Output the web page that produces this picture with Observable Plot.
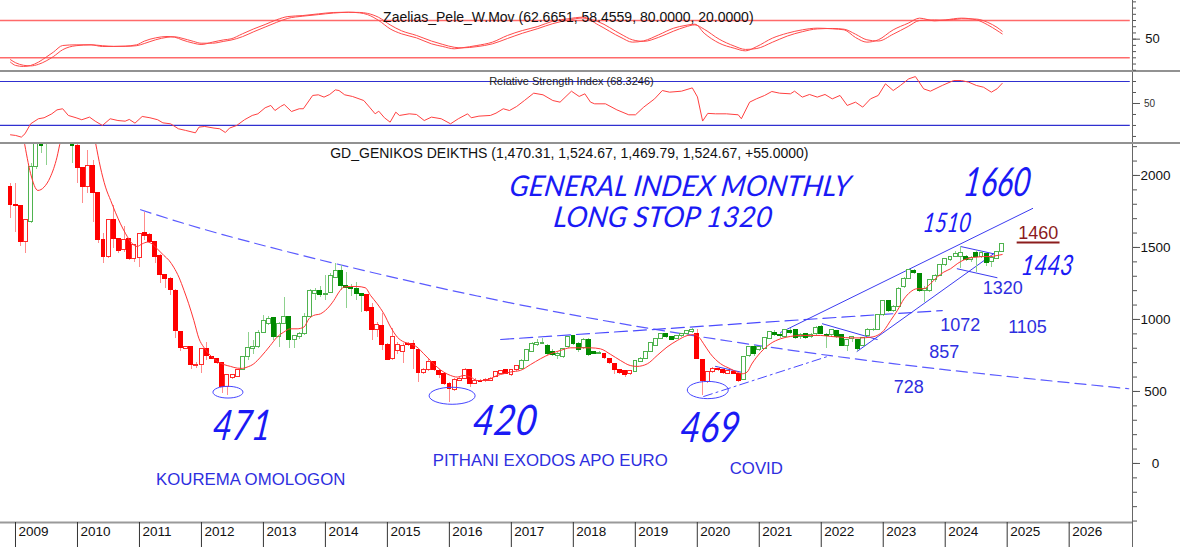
<!DOCTYPE html>
<html><head><meta charset="utf-8">
<script src="https://cdn.jsdelivr.net/npm/d3@7"></script>
<script src="https://cdn.jsdelivr.net/npm/@observablehq/plot@0.6"></script>
<style>
body{margin:0;background:#fff;}
#wrap{width:1180px;height:547px;overflow:hidden;background:#fff;}
#wrap svg{display:block;max-width:none;}
.sep{height:2px;background:#929292;}
</style></head><body><div id="wrap"></div>
<script>
// ---------------- DATA (monthly candles, index m = months since Jan 2009) ----------------
const years = [2009,2010,2011,2012,2013,2014,2015,2016,2017,2018,2019,2020,2021,2022,2023,2024,2025,2026];
const open = [
 1919,1792,1785,1537,1676,2058,2260,2230,2400,2650,2720,2620,
 2300,2208,2051,1919,2069,1877,1553,1433,1688,1560,1479,1560,
 1421,1430,1599,1588,1537,1444,1306,1282,1201,912,796,808,
 675,681,796,738,727,697,530,595,600,650,738,796,
 808,905,970,1009,877,970,1016,854,877,900,1014,1174,
 1201,1167,1183,1290,1335,1229,1220,1213,1174,1167,1081,924,
 958,826,727,780,773,831,831,789,627,650,704,640,
 623,553,513,576,588,646,553,576,570,576,600,623,
 646,611,646,657,715,773,824,831,819,773,743,738,
 808,882,831,803,859,773,762,757,727,692,646,639,
 618,634,704,727,773,819,866,900,877,866,882,898,
 912,900,720,565,634,657,650,623,634,623,581,743,
 808,785,796,866,905,895,877,920,924,877,900,877,
 900,947,895,889,919,889,819,866,854,819,882,924,
 924,1028,1127,1062,1086,1224,1282,1336,1317,1201,1197,1271,
 1305,1375,1414,1433,1437,1433,1410,1462,1437,1456,1398,1421,
 1470.31];
const high = [
 1942,1942,1790,1690,2081,2260,2330,2420,2700,2800,2930,2700,
 2350,2215,2051,2174,2104,1880,1595,1688,1792,1565,1646,1565,
 1514,1600,1745,1595,1540,1450,1312,1290,1205,915,815,812,
 700,800,843,745,732,700,620,620,655,742,912,854,
 920,1028,1020,1015,981,1150,1020,890,910,1039,1206,1213,
 1229,1305,1317,1387,1375,1329,1240,1259,1178,1170,1109,981,
 1039,830,935,840,831,840,854,792,660,720,710,650,
 630,565,590,600,660,650,590,585,590,595,640,648,
 650,650,680,720,790,840,860,870,825,790,770,800,
 885,885,840,870,865,780,775,760,730,695,650,645,
 645,715,735,780,840,870,905,905,885,890,905,920,
 935,928,725,640,665,665,655,645,640,625,745,815,
 820,815,876,915,920,905,930,935,930,900,905,900,
 950,955,905,930,925,895,860,880,860,876,935,940,
 1035,1135,1135,1095,1220,1290,1350,1345,1320,1230,1280,1310,
 1380,1425,1440,1475,1507,1445,1440,1480,1470,1460,1435,1475,
 1524.67];
const low = [
 1699,1606,1507,1461,1664,2040,2150,2069,2380,2550,2580,2260,
 2081,1942,1803,1873,1676,1525,1391,1421,1491,1456,1468,1410,
 1398,1363,1549,1530,1391,1248,1213,1167,866,780,790,650,
 660,623,715,720,690,484,471,585,595,645,715,760,
 800,900,960,854,808,965,796,796,860,889,1010,1132,
 1150,1132,1180,1282,1201,1074,1160,1132,1051,1050,854,877,
 785,715,715,760,692,815,650,565,615,640,640,590,
 542,420,500,570,585,530,545,560,565,570,595,615,
 615,605,640,650,710,770,815,825,750,740,720,730,
 800,820,770,790,745,755,755,725,690,620,615,600,
 610,630,700,720,770,815,860,870,855,860,875,890,
 905,720,469,555,625,640,620,615,615,565,575,735,
 745,775,790,860,880,870,870,895,860,860,860,865,
 890,895,796,880,870,810,780,840,780,810,875,915,
 920,1020,1050,1050,1080,1215,1275,1310,1190,1120,1190,1260,
 1300,1370,1405,1428,1354,1400,1395,1328,1425,1370,1360,1415,
 1469.79];
const close = [
 1792,1785,1537,1688,2058,2235,2205,2400,2650,2720,2620,2350,
 2208,2053,1919,2069,1877,1553,1433,1688,1560,1472,1549,1421,
 1514,1595,1583,1537,1433,1310,1282,1206,919,803,808,681,
 683,796,743,727,697,530,616,611,650,738,803,810,
 905,988,1005,877,970,1016,854,882,900,1016,1197,1201,
 1167,1178,1305,1335,1229,1220,1213,1174,1160,1062,924,965,
 826,720,877,823,819,824,796,627,650,708,646,615,
 553,519,580,588,646,553,576,565,582,588,634,640,
 623,646,674,715,785,831,836,836,757,750,762,796,
 877,831,785,859,750,762,765,731,697,646,627,611,
 639,711,727,773,836,866,900,877,860,882,900,918,
 928,727,572,634,657,646,627,639,623,572,738,812,
 757,808,872,912,895,885,924,905,872,895,872,895,
 942,900,885,924,877,819,854,875,796,872,928,928,
 1028,1127,1058,1086,1213,1282,1345,1322,1201,1210,1275,1305,
 1375,1421,1433,1456,1461,1410,1430,1433,1461,1391,1428,1468,
 1524.67];
// trend signal (candle colouring) as runs of months
const trendRuns = [["r",4],["g",9],["r",32],["g",24],["r",30],["g",16],["r",6],["g",12],["r",9],["g",51]];
// moving average (red line) [month, value]
const maLine = [[1.5,2450],[2.6,2243],[3.9,2012],[5.3,1896],[6.5,1919],[7.7,1988],[9,2127],[9.7,2243],[11,2420],[13.5,2480],[15.5,2400],[16.5,2220],[17.4,2058],[18.4,1919],[19.4,1826],[20.3,1745],[21.3,1664],[22.3,1595],[23.6,1525],[24.5,1507],[25.5,1525],[26.5,1537],[27.4,1525],[28.4,1491],[29.7,1444],[30.7,1410],[31.6,1363],[32.6,1294],[33.6,1201],[34.5,1109],[35.5,993],[36.5,866],[37.4,808],[38.4,762],[39.4,727],[40.3,704],[41.3,687],[42.6,674],[43.9,662],[44.9,660],[45.8,669],[47.1,692],[48.4,738],[50.3,819],[51.6,877],[52.9,912],[54.2,935],[55.5,935],[56.8,947],[57.8,1005],[58.7,1028],[60,1039],[61.3,1074],[62.6,1132],[63.6,1190],[64.5,1224],[65.8,1229],[67.1,1229],[68.7,1220],[69.7,1167],[71,1109],[72.3,1039],[73.6,947],[74.9,877],[76.2,843],[77.4,831],[78.7,808],[80,762],[81.3,715],[82.6,669],[83.9,634],[85.2,611],[86.5,600],[87.8,611],[89.1,600],[90.3,576],[91.6,576],[92.9,588],[94.2,611],[95.5,623],[96.8,635],[98.7,646],[100.7,687],[102.6,727],[104.6,762],[106.5,785],[108.4,803],[110.4,803],[112.3,803],[114.2,796],[116.2,757],[118.1,715],[120,680],[121.3,674],[123.3,692],[125.2,750],[127.1,808],[129.1,854],[131,888],[132.3,895],[133.3,877],[134.2,831],[135.5,762],[137.5,692],[139.4,657],[140.7,634],[141.7,623],[142.6,634],[143.5,690],[145.2,770],[147.1,831],[149.1,866],[151,882],[152.9,889],[154.9,889],[156.8,889],[158.8,882],[160.7,877],[162.6,872],[164.6,872],[166.5,877],[167.8,889],[169.1,924],[170.4,993],[171.7,1062],[173,1143],[174.2,1190],[175.5,1213],[176.8,1213],[178.1,1248],[179.4,1294],[180.7,1329],[182,1352],[183.3,1387],[184.6,1414],[185.9,1428],[187.1,1433],[188.4,1437],[189.7,1437],[191,1444],[192,1451]];
// Relative Strength Index [month, value]
const rsi = [[0,21.5],[1,20.9],[2.1,19.4],[2.8,22.4],[3.9,31.5],[5.4,36.1],[6.5,37],[8,40.6],[9,44.2],[10.1,45.2],[11.2,39.1],[12.7,37],[13.8,35.2],[15.3,37.6],[16.4,33.9],[17.8,30],[19.3,36.1],[20.8,34.5],[22.2,33.9],[23,35.5],[24.1,32.1],[25.5,38.2],[27,37],[28.5,35.2],[29.5,32.4],[31,31.5],[32.5,27],[33.9,25.5],[35.8,23.3],[36.5,28.5],[37.6,29.1],[39.4,27.6],[40.5,27],[41.6,23.6],[42.4,27.6],[43.8,30],[45.3,35.2],[46.8,39.1],[47.9,40.6],[49.3,46.1],[50.4,48.2],[51.2,43.6],[52.3,47.3],[53,49.1],[54.4,42.7],[55.9,45.2],[56.7,45.2],[58.5,57.3],[59.6,57.9],[60.7,55.8],[61.8,58.2],[62.9,62.4],[63.6,61.8],[64.7,57.9],[66.2,56.4],[68.4,52.7],[69.5,46.7],[70.6,40.6],[71.3,43],[72.4,37],[73.5,33],[74.6,42.1],[75.3,39.1],[77.2,40.6],[78.6,40],[80.1,34.5],[81.5,37.6],[83.4,36.1],[85.2,31.5],[86.7,36.1],[88.5,40.6],[89.2,37],[90.7,38.5],[92.9,39.1],[94,41.2],[95.4,45.2],[96.6,43.6],[98,47.3],[99.5,52.7],[101.3,59.4],[103.1,57.9],[105,52.7],[106.4,51.2],[108.6,61.2],[110.1,56.4],[111.2,58.8],[112.3,51.2],[113.1,49.7],[115.2,49.7],[117.4,44.2],[119.7,39.7],[121,39.7],[122.6,46.7],[124.7,54.2],[126.2,61.8],[127.6,60.3],[129.9,61.2],[132,64.2],[133,56],[134,34],[135,41],[136.5,40.6],[138.6,40.6],[140.9,39.7],[141.5,36.1],[143.1,51.2],[144.4,54.2],[146,57.3],[147.4,60.9],[148.9,59.4],[151,58.8],[151.8,61.2],[153.3,55.8],[154.7,58.2],[156.2,55.8],[157.7,58.2],[159.1,54.2],[160.6,57.3],[162,48.2],[163.6,51.2],[165,46.7],[166.5,54.2],[168,57.3],[169.4,67.9],[170.9,61.8],[172.3,66.4],[173.9,72.4],[175.2,74.5],[176.8,63.3],[178.1,61.2],[180.4,66.4],[182.6,70.9],[184.1,70.9],[185.5,69.4],[187,66.4],[188.4,64.8],[189.9,60.3],[191,63.3],[192,68.3]];
// Zaelias_Pele_W.Mov oscillator: fast line and its weighted average [month, value]
const zpFast = [[0,13],[1,7.7],[2.5,6.1],[3.9,7.7],[5.4,13],[6.9,21.1],[8.3,29.1],[10.1,39.8],[12.7,40.9],[15.6,40.9],[17.8,38.2],[20,38.2],[22.2,38.8],[24.4,40.9],[25.9,46.8],[28.1,52.1],[30.3,54.3],[31.8,53.2],[33.2,48.9],[35.4,43.6],[36.9,41.4],[39.1,45.2],[41.3,48.9],[42.7,50.5],[44.9,58.6],[47.1,66.6],[49.3,73.6],[51.5,81.1],[53.7,86.4],[56.6,88],[59.6,90.7],[62.5,92.9],[65.4,93.4],[67.6,92.3],[69.1,89.6],[71.3,80],[73.5,66.6],[75.7,58.6],[78.6,52.1],[81.5,42.5],[83.7,38.2],[85.9,34.5],[87.4,36.1],[90.3,39.8],[93.3,45.2],[96.2,55.9],[99.1,63.9],[102.1,70.4],[105,78.9],[107.9,82.7],[110.8,85.4],[113.8,73],[118.2,52.7],[120.4,45.2],[122.6,47.3],[125.5,57],[128.4,67.7],[130.6,72],[132.5,74.1],[134.3,59.6],[137.2,43.6],[140.1,35.5],[142.3,31.2],[144.5,38.2],[147.5,51.6],[150.4,59.6],[153.3,65],[156.2,67.7],[159.2,66.6],[161.4,65],[163.6,52.7],[165.8,45.2],[168,48.9],[170.9,65],[173.8,75.7],[176,83.8],[178.9,79.5],[181.1,81.1],[184.1,83.8],[187,81.1],[189.2,73],[191,64],[192,58.5]];
const zpSlow = [[0,17],[1,12],[2.5,8],[3.9,7],[5.4,9.5],[6.9,15],[8.3,22],[10.1,33],[12.7,39.5],[15.6,40.9],[17.8,39.5],[20,38.5],[22.2,38.5],[24.4,39.5],[25.9,43],[28.1,49],[30.3,53],[31.8,53.8],[33.2,51.5],[35.4,46.5],[36.9,43.5],[39.1,43.5],[41.3,46.5],[42.7,48.5],[44.9,54],[47.1,62],[49.3,69.5],[51.5,77],[53.7,83.5],[56.6,87],[59.6,89.5],[62.5,92],[65.4,93.2],[67.6,93],[69.1,91.5],[71.3,85],[73.5,73],[75.7,63.5],[78.6,56],[81.5,47],[83.7,41.5],[85.9,37],[87.4,36],[90.3,38],[93.3,42.5],[96.2,51],[99.1,59.5],[102.1,67],[105,75],[107.9,80.5],[110.8,84],[113.8,78],[118.2,58],[120.4,49],[122.6,46.5],[125.5,53],[128.4,63],[130.6,69.5],[132.5,73],[134.3,66],[137.2,50],[140.1,39],[142.3,33.5],[144.5,35],[147.5,45],[150.4,55],[153.3,62],[156.2,66.5],[159.2,67.2],[161.4,66],[163.6,58],[165.8,49],[168,47],[170.9,58],[173.8,70.5],[176,80],[178.9,81],[181.1,80.5],[184.1,82.8],[187,82.3],[189.2,77],[191,69],[192,62.7]];
// hand-drawn trendlines [month, value]
const longDownTrend = [[25.2,1762],[48.4,1519],[96.8,1115],[145.2,817],[180,655],[216.5,519]];
const risingNeck = [[94.9,861],[180.4,1062]];
const channelTop = [[149.1,910],[197.9,1771]];
const channelBottom = [[163.9,778],[190.4,1458]];
const flagTop = [[183.9,1507],[191,1451]];
const flagBottom = [[183.3,1352],[191,1290]];
const wedgeTop2022 = [[157.2,970],[167.8,861]];
const flagTop2020 = [[136.5,674],[141.7,632]];
const covidSupport = [[134.2,465],[158.8,750]];
// circled lows [month, value]
const low2012 = [[42.1,495]];
const low2016 = [[85.5,470]];
const low2020 = [[135,510]];

// ---------------- CHART ----------------
const W = 1180, MR = 48;
const X0 = -1.936, X1 = 217.23;
const FONT = '"Liberation Sans", Arial, Helvetica, sans-serif';
const HAND = 'Lato, "Open Sans", "Liberation Sans", sans-serif';
const BLUE = "#1a1af5", BLUE2 = "#2e2ee0", LINEBLUE = "#3b3bf0";
const fx = d => d[0], fy = d => d[1];

const trend = trendRuns.flatMap(([c, n]) => Array(n).fill(c));
const candles = open.map((o, i) => ({m: i, o, h: high[i], l: low[i], c: close[i], t: trend[i]}));
const col = {
  g: {filled: "#008a00", hollow: "#4fb34f", wick: "#8ed18e"},
  r: {filled: "#ff0000", hollow: "#ff2a2a", wick: "#ff8c8c"}
};

function ellipseSymbol(aspect) {
  return {draw(ctx, size) {
    const rx = Math.sqrt(size / Math.PI), ry = rx * aspect, k = 0.5523;
    ctx.moveTo(rx, 0);
    ctx.bezierCurveTo(rx, ry * k, rx * k, ry, 0, ry);
    ctx.bezierCurveTo(-rx * k, ry, -rx, ry * k, -rx, 0);
    ctx.bezierCurveTo(-rx, -ry * k, -rx * k, -ry, 0, -ry);
    ctx.bezierCurveTo(rx * k, -ry, rx, -ry * k, rx, 0);
    ctx.closePath();
  }};
}

function rightTicks(minor, major, minorSize, majorSize) {
  return [
    Plot.axisY({anchor: "right", ticks: minor, tickSize: minorSize, tickFormat: () => "", label: null, stroke: "#555"}),
    Plot.axisY({anchor: "right", ticks: major, tickSize: majorSize, tickFormat: () => "", label: null, stroke: "#555"}),
    Plot.ruleX([X1], {stroke: "#666", strokeWidth: 1})
  ];
}

// Panel 1: Zaelias oscillator
const p1 = Plot.plot({
  width: W, height: 70, marginLeft: 0, marginRight: MR, marginTop: 0, marginBottom: 0,
  x: {type: "linear", domain: [X0, X1], axis: null},
  y: {domain: [-0.4, 112.2], axis: null},
  style: {background: "white", overflow: "visible"},
  marks: [
    Plot.ruleY([80, 20], {x1: X0, x2: 216.8, stroke: "#ff6a6a", strokeWidth: 1.5}),
    Plot.line(zpSlow, {x: fx, y: fy, stroke: "#ff4a4a", strokeWidth: 1, curve: "monotone-x"}),
    Plot.line(zpFast, {x: fx, y: fy, stroke: "#ff4a4a", strokeWidth: 1, curve: "monotone-x"}),
    Plot.text(["Zaelias_Pele_W.Mov (62.6651, 58.4559, 80.0000, 20.0000)"], {x: 108, y: 84.6, text: d => d, fontSize: 14, fontFamily: FONT, fill: "#111", textAnchor: "middle"}),
    ...rightTicks(d3.range(0, 111, 10), [50], 3, 7),
    Plot.text([50], {y: d => d, frameAnchor: "right", dx: 20, text: d => String(d), fontSize: 13, fontFamily: FONT, fill: "#111", textAnchor: "middle"})
  ]
});

// Panel 2: RSI
const p2 = Plot.plot({
  width: W, height: 70, marginLeft: 0, marginRight: MR, marginTop: 0, marginBottom: 0,
  x: {type: "linear", domain: [X0, X1], axis: null},
  y: {domain: [14.5, 78.2], axis: null},
  style: {background: "white", overflow: "visible"},
  marks: [
    Plot.ruleY([70, 30], {x1: X0, x2: 216.8, stroke: "#3030d0", strokeWidth: 1.2}),
    Plot.line(rsi, {x: fx, y: fy, stroke: "#ff4040", strokeWidth: 1}),
    Plot.text(["Relative Strength Index (68.3246)"], {x: 108.6, y: 70, text: d => d, fontSize: 11, fontFamily: FONT, fill: "#222", textAnchor: "middle"}),
    ...rightTicks(d3.range(20, 71, 10), [50], 3, 7),
    Plot.text([50], {y: d => d, frameAnchor: "right", dx: 17, text: d => String(d), fontSize: 10, fontFamily: FONT, fill: "#333", textAnchor: "middle"})
  ]
});

// Panel 3: price candles
// handwritten notes: [text, month, value, font size, horizontal squeeze]
const handNotes = [
  ["GENERAL INDEX MONTHLY", 129.7, 1924, 28.5, 1],
  ["LONG STOP 1320", 126.4, 1712, 28.5, 1],
  ["1660", 191.1, 1951, 40, 0.75],
  ["1510", 181.4, 1674, 27, 0.76],
  ["1443", 200.8, 1375, 28, 0.8],
  ["471", 44.9, 264, 42, 0.8],
  ["420", 95.8, 299, 42, 0.88],
  ["469", 135.5, 250, 42, 0.83]
];
const hand = ([txt, m, v, size]) => Plot.text([txt], {x: m, y: v, text: d => d, fontSize: size, fontFamily: HAND, fontStyle: "italic", fontWeight: 400, fill: BLUE, textAnchor: "middle"});
const note = (txt, m, v, size, fill = BLUE2) => Plot.text([txt], {x: m, y: v, text: d => d, fontSize: size, fontFamily: FONT, fill, textAnchor: "middle"});

const p3 = Plot.plot({
  width: W, height: 403, marginLeft: 0, marginRight: MR, marginTop: 0, marginBottom: 25,
  x: {type: "linear", domain: [X0, X1], axis: null},
  y: {domain: [-410, 2215], axis: null},
  color: {type: "identity"},
  style: {background: "white", overflow: "visible"},
  marks: [
    // trendlines
    Plot.line(longDownTrend, {x: fx, y: fy, curve: "natural", stroke: "#5a5aff", strokeWidth: 1.2, strokeDasharray: "11,6"}),
    Plot.line(risingNeck, {x: fx, y: fy, stroke: "#4a4aff", strokeWidth: 1.2, strokeDasharray: "13,6"}),
    Plot.line(covidSupport, {x: fx, y: fy, stroke: "#4a4aff", strokeWidth: 1, strokeDasharray: "9,4,2,4"}),
    Plot.line(channelTop, {x: fx, y: fy, stroke: LINEBLUE, strokeWidth: 1}),
    Plot.line(channelBottom, {x: fx, y: fy, stroke: LINEBLUE, strokeWidth: 1}),
    Plot.line(flagTop, {x: fx, y: fy, stroke: LINEBLUE, strokeWidth: 1}),
    Plot.line(flagBottom, {x: fx, y: fy, stroke: LINEBLUE, strokeWidth: 1}),
    Plot.line(wedgeTop2022, {x: fx, y: fy, stroke: LINEBLUE, strokeWidth: 1}),
    Plot.line(flagTop2020, {x: fx, y: fy, stroke: LINEBLUE, strokeWidth: 1}),
    // candles
    Plot.ruleX(candles, {x: "m", y1: "l", y2: "h", stroke: d => col[d.t].wick, strokeWidth: 1, clip: true, shapeRendering: "crispEdges"}),
    Plot.rect(candles, {x1: d => d.m - 0.38, x2: d => d.m + 0.38, y1: "o", y2: "c",
      fill: d => d.c > d.o ? "white" : col[d.t].filled,
      stroke: d => d.c > d.o ? col[d.t].hollow : col[d.t].filled,
      strokeWidth: 1, clip: true, shapeRendering: "crispEdges"}),
    // moving average
    Plot.line(maLine, {x: fx, y: fy, stroke: "#ff3434", strokeWidth: 1, curve: "monotone-x", clip: true}),
    // circled lows
    Plot.dot(low2012, {x: fx, y: fy, r: 15, symbol: ellipseSymbol(0.39), stroke: "#4545ff", fill: "none", strokeWidth: 1}),
    Plot.dot(low2016, {x: fx, y: fy, r: 23, symbol: ellipseSymbol(0.37), stroke: "#4545ff", fill: "none", strokeWidth: 1}),
    Plot.dot(low2020, {x: fx, y: fy, r: 20.5, symbol: ellipseSymbol(0.42), stroke: "#4545ff", fill: "none", strokeWidth: 1}),
    // titles and notes
    Plot.text(["GD_GENIKOS DEIKTHS (1,470.31, 1,524.67, 1,469.79, 1,524.67, +55.0000)"], {x: 108.2, y: 2152, text: d => d, fontSize: 14, fontFamily: FONT, fill: "#111", textAnchor: "middle"}),
    ...handNotes.map(hand),
    note("1460", 199, 1597, 18, "#8b1c1c"),
    Plot.ruleY([1535], {x1: 194.9, x2: 203.2, stroke: "#8b1c1c", strokeWidth: 2}),
    note("1320", 192.1, 1215, 18),
    note("1072", 183.9, 958, 18),
    note("1105", 196.9, 944, 18),
    note("857", 180.8, 771, 18),
    note("728", 173.9, 528, 18),
    note("KOUREMA OMOLOGON", 46.5, -111, 16.8),
    note("PITHANI EXODOS APO EURO", 104.5, 21, 16.8),
    note("COVID", 144.4, -35, 16.8),
    // right axis
    ...rightTicks(d3.range(-400, 2201, 100), [0, 500, 1000, 1500, 2000], 4, 7),
    Plot.text([0, 500, 1000, 1500, 2000], {y: d => d, frameAnchor: "right", dx: 23, text: d => String(d), fontSize: 13.5, fontFamily: FONT, fill: "#111", textAnchor: "middle"}),
    // bottom year strip
    Plot.ruleY([-410], {stroke: "#9a9a9a", strokeWidth: 2}),
    Plot.axisX({anchor: "bottom", ticks: years.map(y => (y - 2009) * 12), tickSize: 25, tickFormat: () => "", label: null, dx: 5, stroke: "#333"}),
    Plot.axisX({anchor: "bottom", ticks: [X1], tickSize: 25, tickFormat: () => "", label: null, stroke: "#666"}),
    Plot.text(years, {x: y => (y - 2009) * 12, frameAnchor: "bottom", dy: 13, dx: 8, text: y => String(y), fontSize: 13.5, fontFamily: FONT, fill: "#111", textAnchor: "start"})
  ]
});

// slant and squeeze the handwritten notes, anchored where the plot's own scales put them
const sx = p3.scale("x"), sy = p3.scale("y");
const handMap = new Map(handNotes.map(d => [d[0], d]));
p3.querySelectorAll("text").forEach(t => {
  const d = handMap.get(t.textContent);
  if (!d) return;
  const X = sx.apply(d[1]), Y = sy.apply(d[2]);
  t.removeAttribute("x");
  t.setAttribute("y", "0.34em");
  t.setAttribute("transform", `translate(${X},${Y}) skewX(-8) scale(${d[4]},1)`);
});

const wrap = document.getElementById("wrap");
const sep = () => { const d = document.createElement("div"); d.className = "sep"; return d; };
wrap.append(p1, sep(), p2, sep(), p3);
</script></body></html>
